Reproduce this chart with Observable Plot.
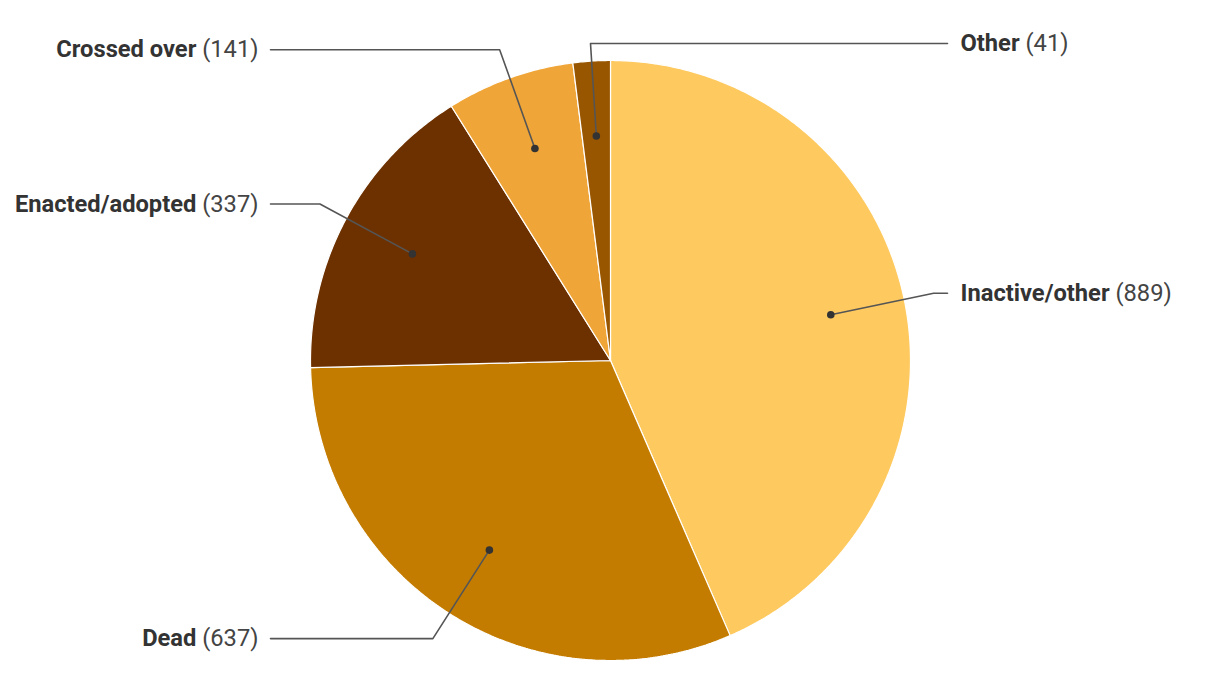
<!DOCTYPE html>
<html>
<head>
<meta charset="utf-8">
<script src="https://cdn.jsdelivr.net/npm/d3@7"></script>
<script src="https://cdn.jsdelivr.net/npm/@observablehq/plot@0.6"></script>
<style>
  html, body { margin: 0; padding: 0; background: #fff; }
  #chart { width: 1220px; height: 700px; }
  svg text { font-family: Roboto, "Noto Sans", sans-serif; }
</style>
</head>
<body>
<div id="chart"></div>
<script>
// ---- data ----
const categories = ["Inactive/other", "Dead", "Enacted/adopted", "Crossed over", "Other"];
const counts = [889, 637, 337, 141, 41];
const colors = ["#FECA60", "#C47C00", "#6D3100", "#F0A538", "#985600"];

// ---- layout (in units of the pie radius) ----
const W = 1220, H = 700, R = 300, CX = 610, CY = 360;
const dotR = 0.75, elbowR = 1.1, maxLabelY = (CY - 43) / R;
const lineEndRight = (947 - CX) / R, lineEndLeft = (270 - CX) / R;
const textRight = (960 - CX) / R, textLeft = (258 - CX) / R;

const total = d3.sum(counts);
const slices = [];
const leaders = [];
const dots = [];
const labels = [];
let acc = 0;
categories.forEach((name, i) => {
  const a0 = acc / total * 2 * Math.PI;
  acc += counts[i];
  const a1 = acc / total * 2 * Math.PI;
  // polygon: center + arc
  slices.push({name, x: 0, y: 0});
  const n = Math.max(2, Math.ceil((a1 - a0) / (Math.PI / 360)));
  for (let k = 0; k <= n; k++) {
    const a = a0 + (a1 - a0) * k / n;
    slices.push({name, x: Math.sin(a), y: Math.cos(a)});
  }
  slices.push({name, x: 0, y: 0});
  const am = (a0 + a1) / 2;
  const sx = Math.sin(am), sy = Math.cos(am);
  const dx = dotR * sx, dy = dotR * sy;
  let ey = elbowR * sy, ex = elbowR * sx;
  if (ey > maxLabelY) { ey = maxLabelY; ex = sx * (ey / sy); }
  const right = sx > -0.1;
  const endX = right ? lineEndRight : lineEndLeft;
  dots.push({name, x: dx, y: dy});
  leaders.push({name, x: dx, y: dy}, {name, x: ex, y: ey}, {name, x: endX, y: ey});
  labels.push({name, value: counts[i], right, x: right ? textRight : textLeft, y: ey});
});

const plot = Plot.plot({
  width: W,
  height: H,
  margin: 0,
  x: {domain: [-CX / R, (W - CX) / R], axis: null},
  y: {domain: [-(H - CY) / R, CY / R], axis: null},
  color: {domain: categories, range: colors},
  style: {fontFamily: "Roboto, sans-serif", background: "#fff"},
  marks: [
    Plot.line(slices, {x: "x", y: "y", z: "name", fill: "name", stroke: "#fff", strokeWidth: 1.2, strokeLinejoin: "miter"}),
    Plot.line(leaders, {x: "x", y: "y", z: "name", stroke: "#555", strokeWidth: 1.6}),
    Plot.dot(dots, {x: "x", y: "y", r: 3.8, fill: "#333", stroke: "none"}),
    Plot.text(labels.filter(d => d.right), {x: "x", y: "y", text: d => `${d.name} (${d.value})`, textAnchor: "start", fontSize: 23.7, fill: "#333"}),
    Plot.text(labels.filter(d => !d.right), {x: "x", y: "y", text: d => `${d.name} (${d.value})`, textAnchor: "end", fontSize: 23.7, fill: "#333"})
  ]
});

// split labels into bold name + regular value
d3.select(plot).selectAll("g[aria-label=text] text").each(function() {
  const t = this.textContent;
  const idx = t.lastIndexOf(" (");
  if (idx < 0) return;
  const name = t.slice(0, idx), val = t.slice(idx);
  const sel = d3.select(this);
  sel.text(null);
  sel.append("tspan").attr("font-weight", "bold").attr("fill", "#333").text(name);
  sel.append("tspan").attr("font-weight", "normal").attr("fill", "#444").text(val);
});

document.getElementById("chart").appendChild(plot);
</script>
</body>
</html>
